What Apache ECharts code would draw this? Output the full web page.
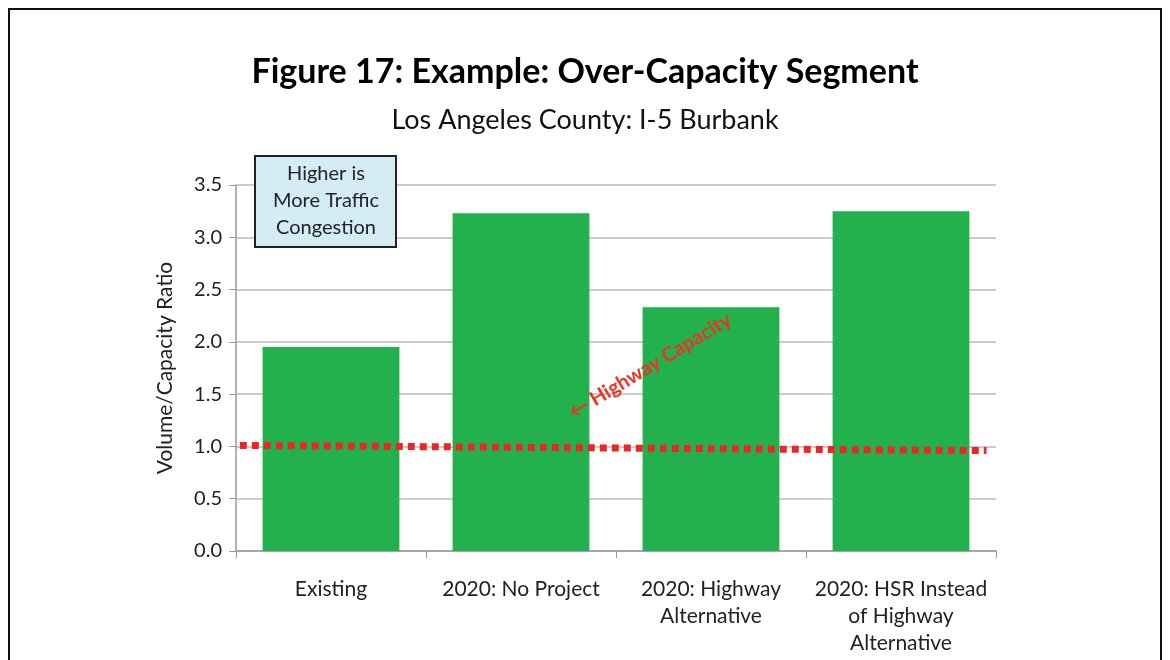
<!DOCTYPE html>
<html>
<head>
<meta charset="utf-8">
<script src="https://cdn.jsdelivr.net/npm/echarts@6/dist/echarts.min.js"></script>
<style>
  html, body { margin: 0; padding: 0; background: #fff; }
  #chart { width: 1170px; height: 660px; }
</style>
</head>
<body>
<div id="chart"></div>
<script>
// values
const categories = ['Existing', '2020: No Project', '2020: Highway\nAlternative', '2020: HSR Instead\nof Highway\nAlternative'];
const ratios = [1.95, 3.23, 2.33, 3.25];
// highway capacity line: [x position in category units, ratio]
const capacityLine = [[-0.48, 1.01], [3.45, 0.96]];
const yTicks = [0, 0.5, 1, 1.5, 2, 2.5, 3, 3.5];

const font = 'Lato, "Open Sans", sans-serif';
const chart = echarts.init(document.getElementById('chart'));

const option = {
  backgroundColor: '#fff',
  animation: false,
  title: [
    {
      text: 'Figure 17: Example: Over-Capacity Segment',
      left: 'center',
      top: 50,
      textStyle: { fontFamily: font, fontWeight: 'bold', fontSize: 34, color: '#000' }
    },
    {
      text: 'Los Angeles County: I-5 Burbank',
      left: 'center',
      top: 102,
      textStyle: { fontFamily: font, fontWeight: 'normal', fontSize: 27, color: '#111' }
    }
  ],
  grid: { left: 236, right: 174, top: 185, bottom: 109 },
  xAxis: [
    {
      type: 'category',
      data: categories,
      axisLine: { lineStyle: { color: '#999', width: 1.5 } },
      axisTick: { show: true, length: 7, lineStyle: { color: '#999' } },
      axisLabel: {
        interval: 0,
        margin: 25,
        fontFamily: font,
        fontSize: 21,
        lineHeight: 27,
        color: '#222'
      }
    },
    {
      type: 'value',
      min: -0.5,
      max: 3.5,
      show: false
    }
  ],
  yAxis: {
    type: 'value',
    min: yTicks[0],
    max: yTicks[yTicks.length - 1],
    interval: 0.5,
    name: 'Volume/Capacity Ratio',
    nameLocation: 'middle',
    nameGap: 60,
    nameTextStyle: { fontFamily: font, fontSize: 21, color: '#222' },
    axisLine: { show: true, onZero: false, lineStyle: { color: '#999', width: 1.5 } },
    axisTick: { show: true, length: 7, lineStyle: { color: '#999' } },
    axisLabel: {
      margin: 14,
      fontFamily: font,
      fontSize: 20,
      color: '#222',
      formatter: v => v.toFixed(1)
    },
    splitLine: { lineStyle: { color: '#bbb', width: 1.5 } }
  },
  series: [
    {
      type: 'bar',
      data: ratios,
      barWidth: '72%',
      itemStyle: { color: '#22b14c' },
      z: 2
    },
    {
      type: 'line',
      xAxisIndex: 1,
      data: capacityLine,
      symbol: 'none',
      lineStyle: { color: '#ee2525', width: 7, type: [7, 5] },
      z: 3
    }
  ],
  graphic: [
    {
      type: 'rect',
      shape: { x: 9, y: 9, width: 1152, height: 720 },
      style: { fill: 'none', stroke: '#111', lineWidth: 2 },
      silent: true
    },
    {
      type: 'rect',
      shape: { x: 255, y: 156, width: 141, height: 91 },
      style: { fill: '#d3ecf6', stroke: '#222', lineWidth: 2 },
      z: 10
    },
    {
      type: 'text',
      x: 326,
      y: 201,
      z: 11,
      style: {
        text: 'Higher is\nMore Traffic\nCongestion',
        align: 'center',
        verticalAlign: 'middle',
        fontFamily: font,
        fontSize: 20,
        lineHeight: 27,
        fill: '#222'
      }
    },
    {
      type: 'text',
      x: 650,
      y: 366,
      rotation: Math.PI * 31 / 180,
      z: 11,
      style: {
        text: '\u2190 Highway Capacity',
        align: 'center',
        verticalAlign: 'middle',
        fontFamily: font,
        fontWeight: 'bold',
        fontSize: 20,
        fill: '#ee3324'
      }
    }
  ]
};

chart.setOption(option);
</script>
</body>
</html>
